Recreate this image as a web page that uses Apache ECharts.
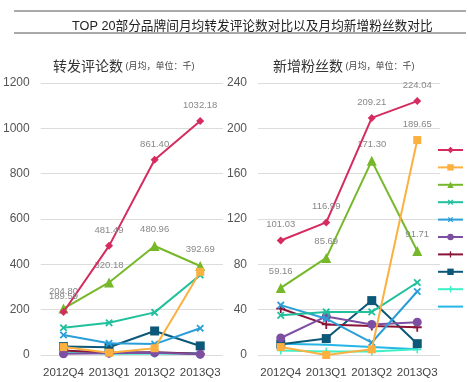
<!DOCTYPE html>
<html><head><meta charset="utf-8">
<script src="https://cdn.jsdelivr.net/npm/echarts@6/dist/echarts.min.js"></script>
<style>html,body{margin:0;padding:0;background:#fff}#c{width:468px;height:382px}</style>
</head><body><div id="c"></div>
<script>
const categories = ['2012Q4','2013Q1','2013Q2','2013Q3'];
const brandNames = ['品牌一','品牌二','品牌三','品牌四','品牌五','品牌六','品牌七','品牌八','品牌九','品牌十'];
const colors = ['#d52b5e','#fbb040','#76b82a','#20c09c','#2a9ed8','#7d4fa2','#8a1538','#0c5878','#3ff0c6','#25b6e6'];
// 转发评论数 (月均, 单位: 千)
const fwd1 = [189.59, 481.49, 861.40, 1032.18];
const fwd2 = [35, 10, 30, 367];
const fwd3 = [204.80, 320.18, 480.96, 392.69];
const fwd4 = [120, 142, 188, 353];
const fwd5 = [88, 52, 48, 118];
const fwd6 = [5, 8, 10, 3];
const fwd7 = [20, 10, 12, 5];
const fwd8 = [37, 34, 106, 40];
const fwd9 = [15, 5, 5, 5];
const fwd10 = [15, 12, 10, 8];
// 新增粉丝数 (月均, 单位: 千)
const fans1 = [101.03, 116.99, 209.21, 224.04];
const fans2 = [7, 0, 5, 189.65];
const fans3 = [59.16, 85.69, 171.30, 91.71];
const fans4 = [35, 38, 38, 64];
const fans5 = [44, 32, 11, 56];
const fans6 = [15, 34, 27, 29];
const fans7 = [41, 27, 25.5, 24.5];
const fans8 = [9.5, 14.5, 48, 10];
const fans9 = [4, 3, 3, 5];
const fans10 = [10, 9, 7, 5];
const leftTicks = {min:0, max:1200, interval:200};
const rightTicks = {min:0, max:240, interval:40};

const fwdAll = [fwd1,fwd2,fwd3,fwd4,fwd5,fwd6,fwd7,fwd8,fwd9,fwd10];
const fansAll = [fans1,fans2,fans3,fans4,fans5,fans6,fans7,fans8,fans9,fans10];
const plus = 'path://M4,0h2v4h4v2h-4v4h-2v-4h-4v-2h4z';
const symbols = [
  {symbol:'diamond', size:8},
  {symbol:'rect', size:8},
  {symbol:'triangle', size:10},
  {symbol:plus, size:9, rotate:45},
  {symbol:plus, size:9, rotate:45},
  {symbol:'circle', size:9},
  {symbol:plus, size:9},
  {symbol:'rect', size:9},
  {symbol:plus, size:8},
  {symbol:'none', size:0}
];
const labelOn = [[1,1,1,1],[0,0,0,0],[1,1,1,1],[0,0,0,0],[0,0,0,0],[0,0,0,0],[0,0,0,0],[0,0,0,0],[0,0,0,0],[0,0,0,0]];
const labelOnFans = [[1,1,1,1],[0,0,0,1],[1,1,1,1],[0,0,0,0],[0,0,0,0],[0,0,0,0],[0,0,0,0],[0,0,0,0],[0,0,0,0],[0,0,0,0]];
const FONT = 'Liberation Sans, Noto Sans CJK SC, sans-serif';

function mk(arr, i, axisIdx, lab) {
  const s = symbols[i];
  return {
    name: brandNames[i], type:'line', xAxisIndex:axisIdx, yAxisIndex:axisIdx,
    symbol: s.symbol, symbolSize: s.size, symbolRotate: s.rotate || 0,
    showSymbol: s.symbol !== 'none',
    lineStyle:{width:2, color:colors[i]}, itemStyle:{color:colors[i]},
    z: 20 - i,
    data: arr.map((v,j)=>({value:v, label:{show: !!lab[i][j]}})),
    label:{show:false, position:'top', distance:7, color:'#888', fontSize:9.5, fontFamily:FONT,
      formatter:p=>p.value.toFixed(2)},
    animation:false
  };
}
const series = [];
fwdAll.forEach((a,i)=>series.push(mk(a,i,0,labelOn)));
fansAll.forEach((a,i)=>series.push(mk(a,i,1,labelOnFans)));

const axisCommonX = {type:'category', data:categories, boundaryGap:true,
  axisLine:{show:false}, axisTick:{show:false},
  axisLabel:{color:'#444', fontSize:11.5, margin:12, interval:0, fontFamily:FONT}};
const axisCommonY = {type:'value', axisLine:{show:false}, axisTick:{show:false},
  splitLine:{lineStyle:{color:'#dcdcdc', width:1}},
  axisLabel:{color:'#555', fontSize:12, margin:11, fontFamily:FONT, formatter:v=>String(v)}};

const legendData = brandNames.map((n,i)=> i===9 ? {name:n, itemStyle:{opacity:0}} : n);

const chart = echarts.init(document.getElementById('c'));
chart.setOption({
  animation:false,
  color: colors,
  title:[
    {text:'TOP 20部分品牌间月均转发评论数对比以及月均新增粉丝数对比', left:67, top:15,
     textStyle:{fontSize:12.7, fontWeight:'normal', color:'#222', fontFamily:FONT}},
    {text:'{a|转发评论数}{b| (月均，单位：千)}', left:48, top:55,
     textStyle:{fontWeight:'normal', rich:{a:{fontSize:14, fontWeight:'normal', color:'#333', fontFamily:FONT}, b:{fontSize:9, fontWeight:'normal', color:'#444', fontFamily:FONT}}}},
    {text:'{a|新增粉丝数}{b| (月均，单位：千)}', left:268, top:55,
     textStyle:{fontWeight:'normal', rich:{a:{fontSize:14, fontWeight:'normal', color:'#333', fontFamily:FONT}, b:{fontSize:9, fontWeight:'normal', color:'#444', fontFamily:FONT}}}}
  ],
  graphic:[
    {type:'line', shape:{x1:14, y1:11, x2:466, y2:11}, style:{stroke:'#555', lineWidth:1}},
    {type:'line', shape:{x1:14, y1:33, x2:466, y2:33}, style:{stroke:'#555', lineWidth:1}}
  ],
  legend:{orient:'vertical', left:437, top:145, padding:0, itemWidth:25, itemHeight:8, itemGap:7.4,
    data: legendData, textStyle:{fontSize:10, color:'#444', fontFamily:FONT}},
  grid:[
    {left:40, top:83, width:183, height:272},
    {left:258, top:83, width:182, height:272}
  ],
  xAxis:[Object.assign({gridIndex:0}, axisCommonX), Object.assign({gridIndex:1}, axisCommonX)],
  yAxis:[Object.assign({gridIndex:0}, axisCommonY, leftTicks), Object.assign({gridIndex:1}, axisCommonY, rightTicks)],
  series: series
});
</script></body></html>
